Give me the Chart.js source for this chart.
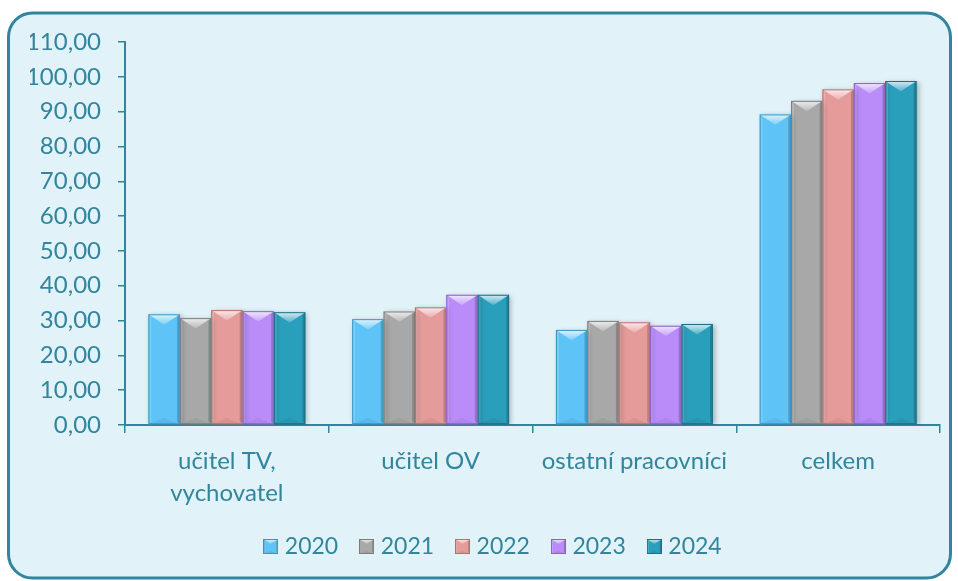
<!DOCTYPE html>
<html>
<head>
<meta charset="utf-8">
<script src="https://cdn.jsdelivr.net/npm/chart.js@4.4.1/dist/chart.umd.min.js"></script>
<style>
  html, body { margin: 0; padding: 0; background: #ffffff; }
  #wrap { width: 958px; height: 581px; position: relative; }
</style>
</head>
<body>
<div id="wrap"><canvas id="c" width="958" height="581"></canvas></div>
<script>
// ---- data ----
const categories = [["učitel TV,", "vychovatel"], "učitel OV", "ostatní pracovníci", "celkem"];
const seriesNames = ["2020", "2021", "2022", "2023", "2024"];
const v2020 = [31.8, 30.4, 27.3, 89.2];
const v2021 = [30.7, 32.6, 29.9, 93.1];
const v2022 = [33.0, 33.8, 29.5, 96.4];
const v2023 = [32.7, 37.4, 28.5, 98.2];
const v2024 = [32.4, 37.4, 29.0, 98.8];
const yTickLabels = ["0,00", "10,00", "20,00", "30,00", "40,00", "50,00", "60,00", "70,00", "80,00", "90,00", "100,00", "110,00"];

// ---- styles ----
const seriesColors = ["#5ec3f6", "#a8a8a8", "#e49b9a", "#b98cf9", "#2a9fbc"];
const edgeColors   = ["#3b95c4", "#7c7c7c", "#b56f6e", "#8a62c6", "#1c6f85"];
const TEAL = "#31859c";
const BG = "#e1f2f8";
const FONT = "Lato, 'Open Sans', sans-serif";

function shade(ctx, pts, fill) {
  ctx.beginPath();
  ctx.moveTo(pts[0][0], pts[0][1]);
  for (let i = 1; i < pts.length; i++) ctx.lineTo(pts[i][0], pts[i][1]);
  ctx.closePath();
  ctx.fillStyle = fill;
  ctx.fill();
}

function drawBevel(ctx, left, right, top, bottom, edge) {
  const w = right - left;
  const b = Math.min(w * 0.33, (bottom - top) / 2);
  const cx = (left + right) / 2;
  const s = Math.max(2, w * 0.09);
  shade(ctx, [[left, top], [left + s, top + s], [left + s, bottom - s], [left, bottom]], "rgba(255,255,255,0.18)");
  shade(ctx, [[right, top], [right - s, top + s], [right - s, bottom - s], [right, bottom]], "rgba(0,0,0,0.18)");
  shade(ctx, [[left, bottom], [right, bottom], [cx, bottom - b * 0.6]], "rgba(0,0,0,0.06)");
  const g = ctx.createLinearGradient(0, top, 0, top + b);
  g.addColorStop(0, "rgba(255,255,255,0.8)");
  g.addColorStop(1, "rgba(255,255,255,0.2)");
  shade(ctx, [[left, top], [right, top], [cx, top + b]], g);
  ctx.lineWidth = 1;
  ctx.strokeStyle = edge;
  ctx.strokeRect(left + 0.5, top + 0.5, w - 1, bottom - top - 1);
}

function legendImage(i) {
  const c = document.createElement("canvas");
  c.width = 15; c.height = 15;
  const x = c.getContext("2d");
  x.fillStyle = seriesColors[i];
  x.fillRect(0, 0, 15, 15);
  drawBevel(x, 0, 15, 0, 15, edgeColors[i]);
  return c;
}

const cardPlugin = {
  id: "card",
  afterLayout(chart) {
    if (chart.legend) { chart.legend.left += 10; chart.legend.right += 10; }
  },
  beforeDraw(chart) {
    const ctx = chart.ctx;
    ctx.save();
    ctx.fillStyle = "#ffffff";
    ctx.fillRect(0, 0, chart.width, chart.height);
    const x = 8.5, y = 13, w = 942, h = 565, r = 24;
    ctx.beginPath();
    ctx.moveTo(x + r, y);
    ctx.lineTo(x + w - r, y);
    ctx.arcTo(x + w, y, x + w, y + r, r);
    ctx.lineTo(x + w, y + h - r);
    ctx.arcTo(x + w, y + h, x + w - r, y + h, r);
    ctx.lineTo(x + r, y + h);
    ctx.arcTo(x, y + h, x, y + h - r, r);
    ctx.lineTo(x, y + r);
    ctx.arcTo(x, y, x + r, y, r);
    ctx.closePath();
    ctx.fillStyle = BG;
    ctx.fill();
    ctx.lineWidth = 3;
    ctx.strokeStyle = TEAL;
    ctx.stroke();
    ctx.restore();
  },
  beforeDatasetsDraw(chart) {
    const ctx = chart.ctx;
    ctx.save();
    ctx.shadowColor = "rgba(0,0,0,0.28)";
    ctx.shadowBlur = 5;
    ctx.shadowOffsetX = 2;
    ctx.shadowOffsetY = 1;
  },
  afterDatasetsDraw(chart) {
    const ctx = chart.ctx;
    ctx.restore();
    ctx.save();
    chart.data.datasets.forEach((ds, di) => {
      const meta = chart.getDatasetMeta(di);
      if (meta.hidden) return;
      meta.data.forEach(el => {
        const p = el.getProps(["x", "y", "base", "width"], true);
        const left = p.x - p.width / 2, right = p.x + p.width / 2;
        const top = Math.min(p.y, p.base), bottom = Math.max(p.y, p.base);
        drawBevel(ctx, left, right, top, bottom, edgeColors[di]);
      });
    });
    ctx.restore();
  }
};

const allValues = [v2020, v2021, v2022, v2023, v2024];
const datasets = seriesNames.map((name, i) => ({
  label: name,
  data: allValues[i],
  backgroundColor: seriesColors[i],
  borderWidth: 0,
  barPercentage: 1.0,
  categoryPercentage: 0.77
}));

const legendImgs = seriesNames.map((_, i) => legendImage(i));

new Chart(document.getElementById("c"), {
  type: "bar",
  data: { labels: categories, datasets },
  plugins: [cardPlugin],
  options: {
    responsive: false,
    animation: false,
    layout: { padding: { left: 30, right: 18, top: 42, bottom: 13 } },
    plugins: {
      tooltip: { enabled: false },
      legend: {
        position: "bottom",
        labels: {
          color: TEAL,
          font: { family: FONT, size: 23 },
          usePointStyle: true,
          pointStyleWidth: 5,
          boxWidth: 15,
          boxHeight: 15,
          padding: 26,
          generateLabels(chart) {
            return chart.data.datasets.map((ds, i) => ({
              text: ds.label,
              fillStyle: seriesColors[i],
              strokeStyle: edgeColors[i],
              lineWidth: 0,
              pointStyle: legendImgs[i],
              fontColor: TEAL,
              hidden: false,
              datasetIndex: i
            }));
          }
        }
      }
    },
    scales: {
      x: {
        afterFit(scale) { scale.height = 84; },
        grid: {
          display: true,
          drawOnChartArea: false,
          drawTicks: true,
          tickLength: 8,
          color: TEAL,
          lineWidth: 1.5,
          offset: true
        },
        border: { display: true, color: TEAL, width: 2 },
        ticks: {
          color: TEAL,
          font: { family: FONT, size: 24, lineHeight: 1.3 },
          padding: 13,
          maxRotation: 0,
          autoSkip: false
        }
      },
      y: {
        min: 0,
        max: 110,
        afterFit(scale) { scale.width = 95; },
        grid: {
          display: true,
          drawOnChartArea: false,
          drawTicks: true,
          tickLength: 7,
          color: TEAL,
          lineWidth: 1.5
        },
        border: { display: true, color: TEAL, width: 2 },
        ticks: {
          stepSize: 10,
          color: TEAL,
          font: { family: FONT, size: 24 },
          padding: 17,
          callback(value, index) { return yTickLabels[Math.round(value / 10)]; }
        }
      }
    }
  }
});
</script>
</body>
</html>
